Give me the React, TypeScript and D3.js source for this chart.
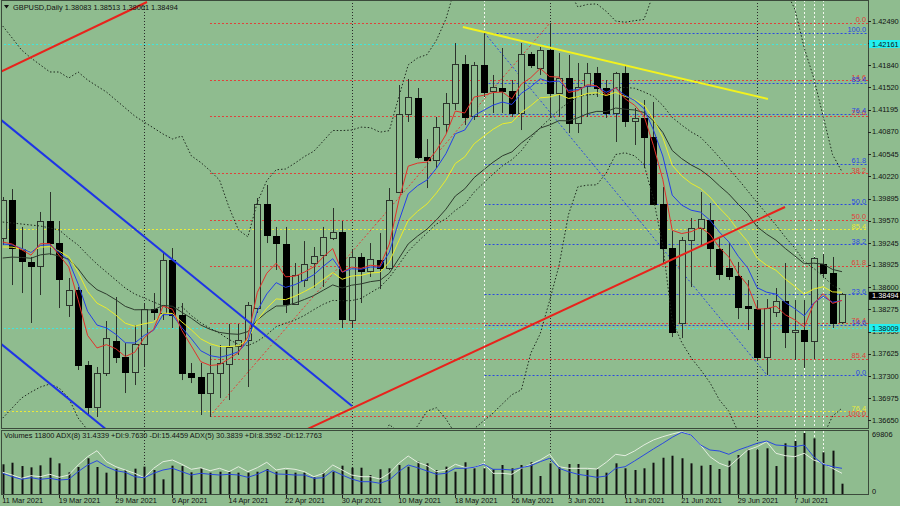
import React from 'react';
import * as d3 from 'd3';

const W = 900;
const H = 506;
const BG = '#8fbc8f';
const FONT = '"Liberation Sans", Arial, sans-serif';

// ---------------- DATA ----------------
const open = [1.39317,1.39873,1.39156,1.38967,1.38908,1.39566,1.39244,1.38338,1.38557,1.37461,
1.36847,1.37344,1.37811,1.37578,1.37359,1.37768,1.38279,1.38221,1.38996,1.38192,
1.37344,1.37286,1.37051,1.37344,1.37476,1.37738,1.37826,1.38294,1.39815,1.39346,
1.39230,1.38353,1.38703,1.38952,1.39069,1.39317,1.39405,1.38119,1.39040,1.38835,
1.38996,1.38879,1.39990,1.41131,1.41364,1.40502,1.40458,1.40985,1.41291,1.41862,
1.41101,1.41847,1.41466,1.41510,1.41466,1.41145,1.42008,1.41803,1.42066,1.41437,
1.41657,1.40999,1.41539,1.41730,1.41510,1.41145,1.41730,1.41028,1.41072,1.40794,
1.39815,1.39171,1.38075,1.39288,1.39464,1.39581,1.39156,1.38879,1.38762,1.38323,
1.38279,1.37578,1.38236,1.38396,1.37943,1.37972,1.37811,1.38938,1.38806,1.38083];
const high = [1.39917,1.40033,1.39479,1.39040,1.39698,1.39990,1.39566,1.38733,1.38601,1.37519,
1.37432,1.38104,1.38455,1.37782,1.38046,1.38353,1.38513,1.39113,1.39171,1.38367,
1.37490,1.37490,1.37738,1.37753,1.38061,1.38061,1.38382,1.39902,1.40092,1.39479,
1.39479,1.38952,1.39273,1.39186,1.39479,1.39756,1.39566,1.39142,1.39098,1.39244,
1.39390,1.40048,1.41554,1.41642,1.41510,1.40764,1.41087,1.41437,1.42168,1.41993,
1.41891,1.42314,1.41701,1.42095,1.41627,1.42168,1.42037,1.42110,1.42461,1.42022,
1.41993,1.41876,1.41876,1.41818,1.41627,1.41745,1.41847,1.41218,1.41335,1.41306,
1.40063,1.39419,1.39332,1.39610,1.39990,1.39829,1.39332,1.39244,1.38967,1.38703,
1.38411,1.38425,1.38586,1.38952,1.38411,1.38411,1.39040,1.39084,1.39040,1.38513];
const low = [1.39215,1.38630,1.38513,1.38075,1.38484,1.39069,1.38294,1.38163,1.37388,1.36730,
1.36701,1.37300,1.37490,1.37051,1.37168,1.37446,1.38119,1.38119,1.38002,1.37241,
1.37197,1.36730,1.36701,1.36978,1.36949,1.37607,1.37139,1.38221,1.39244,1.38850,
1.38221,1.38338,1.38601,1.38586,1.38601,1.39288,1.38002,1.38002,1.38367,1.38748,
1.38571,1.38850,1.39975,1.41014,1.40473,1.40048,1.40341,1.40852,1.41189,1.40970,
1.41043,1.41379,1.41145,1.41145,1.41087,1.40896,1.41803,1.41701,1.41087,1.41087,
1.40852,1.40852,1.41087,1.41379,1.41072,1.40721,1.40941,1.40677,1.40341,1.39800,
1.38952,1.37870,1.37855,1.38601,1.39215,1.38894,1.38703,1.38703,1.38133,1.37972,
1.37534,1.37315,1.38163,1.37709,1.37534,1.37417,1.37548,1.38733,1.38002,1.38061];
const close = [1.39873,1.39171,1.38981,1.38908,1.39566,1.39244,1.38718,1.38557,1.37461,1.36847,
1.37344,1.37855,1.37578,1.37359,1.37768,1.38279,1.38236,1.38996,1.38192,1.37344,
1.37286,1.37051,1.37344,1.37490,1.37724,1.37826,1.38338,1.39815,1.39361,1.39244,
1.38353,1.38777,1.38938,1.39054,1.39332,1.39405,1.38133,1.39040,1.38835,1.39010,
1.38879,1.39873,1.41131,1.41379,1.40502,1.40458,1.40941,1.41291,1.41862,1.41087,
1.41847,1.41452,1.41525,1.41466,1.41145,1.42008,1.41847,1.42066,1.41437,1.41657,
1.40999,1.41525,1.41730,1.41510,1.41145,1.41730,1.41028,1.41072,1.40794,1.39815,
1.39171,1.37943,1.39288,1.39464,1.39595,1.39171,1.38792,1.38762,1.38309,1.38294,
1.37578,1.38294,1.38396,1.37943,1.37972,1.37811,1.39025,1.38806,1.38075,1.38494];
const volume = [34000,35800,32000,30500,32800,41500,35100,24800,30900,40900,
30900,24400,29000,27500,29000,31300,27500,16800,32400,32000,
24800,29400,24400,25500,25500,24400,24400,25500,28600,25500,
27500,24400,24400,19100,24400,25500,32400,30100,30100,21700,
28300,29400,33200,31300,37000,35100,27500,31300,25500,36300,
29400,29400,28300,33200,29400,33200,36300,20600,35100,31300,
34300,34300,27500,28300,24400,35100,29400,27500,29400,35800,
41500,43800,40900,35100,32400,33200,28600,38100,44600,51200,
50400,52300,32000,58000,60700,69806,63700,47700,49600,11800];
const adxWhite = [21.7,19,15.7,18.3,17.3,19.7,16.7,19,29,37.3,
43.3,32.3,27.3,24,20.7,16.3,25.7,32.3,34,29.7,
24.7,26.3,23.3,25.7,22.3,27.3,22.3,26.3,31.7,24,
25.7,24.7,22.3,17.3,20.7,29,24,19,17.3,17.3,
15,20.7,30.7,38,31.7,28.3,22.3,24,29.7,26.7,
26.3,30.7,20.7,20.7,19.7,25.7,29.7,34,39.7,27.3,
25.7,25.7,25.7,25,31.7,39.7,38.3,43,49,54,
57.3,60,62.3,59,49,37.3,30.7,27.3,35.7,44,
47.3,52.3,40.7,38.3,37.3,40.7,34,30.7,25.7,20.7];
const adxBlue = [20.7,17.3,14.7,16.3,14.7,15.7,14,14.7,22.3,29,
33.3,27.3,23.3,21.7,17.3,16.3,20.7,24,25.7,22.3,
19,20.7,19.7,19,19.7,19,16.7,19.7,24,20,
19.7,19,19,15.7,16.3,23.3,19,15,12.3,12.3,
10.7,14,22.3,29,26.3,23,19.7,20.7,25.7,25.7,
26.7,29.7,24.7,24.7,24,26.3,28.3,32.3,35.7,25.7,
22.3,19.7,18.3,16.7,18,25.7,27.3,33,39,45,
50.7,56.7,61.7,59,49,44,43,39.7,44,47.3,
50.7,53,49,48.3,47.3,49,37.3,29.7,27.3,25.7];

// Bollinger values for the first 19 bars (window needs earlier history)
const bbEarlyMid = [1.39551,1.39537,1.39522,1.39507,1.39493,1.39464,1.39434,1.39317,1.39215,1.39069,
1.38937,1.38820,1.38703,1.38586,1.38499,1.38440,1.38382,1.38323,1.38265];
const bbEarlyHalf = [0.02866,0.02705,0.02544,0.02442,0.02354,0.02281,0.0231,0.02339,0.02529,0.02559,
0.02602,0.02632,0.02632,0.02632,0.02602,0.02573,0.02544,0.02515,0.025];
// EMA values at the first bar
const emaSeeds = { e5: 1.39259, e8: 1.3923, e13: 1.39186, e21: 1.39025 };

const dateLabels = ['11 Mar 2021','19 Mar 2021','29 Mar 2021','6 Apr 2021','14 Apr 2021','22 Apr 2021','30 Apr 2021','10 May 2021','18 May 2021','26 May 2021','3 Jun 2021','11 Jun 2021','21 Jun 2021','29 Jun 2021','7 Jul 2021'];
const dateLabelStep = 6;
const priceTicks = ['1.42490','1.42165','1.41840','1.41520','1.41195','1.40870','1.40545','1.40220','1.39895','1.39570','1.39245','1.38925','1.38600','1.38275','1.37950','1.37625','1.37300','1.36975','1.36650'];
const monthStarts = [15, 37, 58, 80];
const whiteMarks = [51, 84, 85, 86, 87];
const cyanPrices = [1.42161, 1.38009];

const fibLevels = [0, 14.6, 23.6, 38.2, 50, 61.8, 76.4, 85.4, 100];
const fibLabels = ['0.0', '14.6', '23.6', '38.2', '50.0', '61.8', '76.4', '85.4', '100.0'];
const redFib = { i1: 21.98, p100: 1.36715, i2: 58.04, p0: 1.42461 };
const blueFib = { i1: 51.1, p100: 1.42315, i2: 81.05, p0: 1.37314 };
const yellowFibLabels = ['85.4', '76.4'];
const yellowFibPrices = [1.39449, 1.36788];

const trendLines = [
  { color: '#e8231c', a: [-0.29, 1.41744], b: [15.3, 1.42768] },
  { color: '#1e34e6', a: [-0.29, 1.41057], b: [37.04, 1.36861] },
  { color: '#1e34e6', a: [-0.29, 1.37782], b: [12.44, 1.36355] },
  { color: '#e8231c', a: [31.53, 1.36474], b: [82.96, 1.39771] },
  { color: '#f2f21e', a: [48.8, 1.42402], b: [81.15, 1.4135] },
];

const headerText = 'GBPUSD,Daily  1.38083 1.38513 1.38061 1.38494';
const volHeader = 'Volumes 11800  ADX(8) 31.4339 +DI:9.7630 -DI:15.4459  ADX(5) 30.3839 +DI:8.3592 -DI:12.7763';
const volMaxLabel = '69806';
const lastPrice = 1.38494;

// ---------------- LAYOUT ----------------
const RIGHT = 868;
const MAIN_TOP = 1;
const MAIN_BOTTOM = 428;
const VOL_TOP = 431;
const VOL_BOTTOM = 495;

function ema(src: number[], n: number, seed: number) {
  const k = 2 / (n + 1);
  const out: number[] = [];
  let prev = seed;
  src.forEach((v, i) => {
    prev = i === 0 ? seed : prev + k * (v - prev);
    out.push(prev);
  });
  return out;
}

function bollinger(src: number[], n: number, dev: number) {
  const mid: number[] = [], up: number[] = [], lo: number[] = [];
  src.forEach((_, i) => {
    if (i < n - 1) {
      mid.push(bbEarlyMid[i]);
      up.push(bbEarlyMid[i] + bbEarlyHalf[i]);
      lo.push(bbEarlyMid[i] - bbEarlyHalf[i]);
    } else {
      const w = src.slice(i - n + 1, i + 1);
      const m = d3.mean(w) as number;
      const sd = Math.sqrt(d3.mean(w.map((v) => (v - m) * (v - m))) as number);
      mid.push(m);
      up.push(m + dev * sd);
      lo.push(m - dev * sd);
    }
  });
  return { mid, up, lo };
}

export default function App() {
  const n = close.length;
  const x = d3.scaleLinear().domain([0, n - 1]).range([2.7, 841.97]);
  const y = d3.scaleLinear().domain([1.42797, 1.3654]).range([0, MAIN_BOTTOM]);
  const yVol = d3.scaleLinear().domain([0, 69806]).range([494, 433]);
  const yAdx = d3.scaleLinear().domain([0, 60]).range([494, 434]);

  const e5 = ema(close, 5, emaSeeds.e5);
  const e8 = ema(close, 8, emaSeeds.e8);
  const e13 = ema(close, 13, emaSeeds.e13);
  const e21 = ema(close, 21, emaSeeds.e21);
  const bb = bollinger(close, 20, 3);

  const line = (arr: number[]) =>
    d3.line<number>().x((_, i) => x(i)).y((v) => y(v))(arr) as string;
  const adxLine = (arr: number[]) =>
    d3.line<number>().x((_, i) => x(i)).y((v) => yAdx(v))(arr) as string;

  const px = (i: number) => Math.round(x(i)) + 0.5;

  const fibElems = (fib: typeof redFib, color: string, startX: number) =>
    fibLevels.map((lv, k) => {
      const p = fib.p0 + (fib.p100 - fib.p0) * lv / 100;
      const yy = Math.round(y(p)) + 0.5;
      return <line key={color + k} x1={startX} x2={RIGHT} y1={yy} y2={yy} stroke={color} strokeWidth={1} strokeDasharray="2,2" />;
    });
  const fibText = (fib: typeof redFib, color: string) =>
    fibLevels.map((lv, k) => {
      const p = fib.p0 + (fib.p100 - fib.p0) * lv / 100;
      return (
        <text key={'t' + color + k} x={866} y={y(p) - 0.5} textAnchor="end" fontSize={7.4} fill={color} fontFamily={FONT}>
          {fibLabels[k]}
        </text>
      );
    });

  return (
    <svg width={W} height={H} style={{ position: 'absolute', left: 0, top: 0, background: BG }}>
      <defs>
        <clipPath id="mainClip">
          <rect x={1} y={MAIN_TOP} width={RIGHT - 1} height={MAIN_BOTTOM - MAIN_TOP} />
        </clipPath>
        <clipPath id="volClip">
          <rect x={1} y={VOL_TOP} width={RIGHT - 1} height={VOL_BOTTOM - VOL_TOP} />
        </clipPath>
      </defs>
      <rect x={0} y={0} width={W} height={H} fill={BG} />

      <g clipPath="url(#mainClip)">
        {cyanPrices.map((p, k) => (
          <line key={'c' + k} x1={0} x2={RIGHT} y1={Math.round(y(p)) + 0.5} y2={Math.round(y(p)) + 0.5} stroke="#3fe6dc" strokeDasharray="2,2" />
        ))}
        {yellowFibPrices.map((p, k) => (
          <line key={'yf' + k} x1={0} x2={RIGHT} y1={Math.round(y(p)) + 0.5} y2={Math.round(y(p)) + 0.5} stroke="#eaea3a" strokeDasharray="2,2" />
        ))}
        {fibElems(redFib, '#e0413a', x(redFib.i1))}
        {fibElems(blueFib, '#2b49e0', x(blueFib.i1))}
        {monthStarts.map((i) => (
          <line key={'ms' + i} x1={px(i)} x2={px(i)} y1={0} y2={MAIN_BOTTOM} stroke="#2a2a2a" strokeDasharray="1,2" />
        ))}
        {whiteMarks.map((i) => (
          <line key={'wm' + i} x1={px(i)} x2={px(i)} y1={0} y2={MAIN_BOTTOM} stroke="#f2f7ee" strokeDasharray="2,2" />
        ))}
        <line x1={x(redFib.i1)} y1={y(redFib.p100)} x2={x(redFib.i2)} y2={y(redFib.p0)} stroke="#e0413a" strokeDasharray="2,2" />
        <line x1={x(blueFib.i1)} y1={y(blueFib.p100)} x2={x(blueFib.i2)} y2={y(blueFib.p0)} stroke="#2b49e0" strokeDasharray="2,2" />

        {close.map((c, i) => {
          const o = open[i];
          const bull = c >= o;
          const cx = px(i);
          const top = Math.round(y(Math.max(o, c)));
          const bot = Math.round(y(Math.min(o, c)));
          return (
            <g key={'k' + i}>
              <line x1={cx} x2={cx} y1={y(high[i])} y2={y(low[i])} stroke="#2c332c" strokeWidth={1} />
              <rect x={cx - 3} y={top + 0.5} width={6} height={Math.max(1, bot - top)} fill={bull ? BG : '#000'} stroke={bull ? '#2c332c' : '#000'} strokeWidth={1} />
            </g>
          );
        })}

        <path d={line(bb.up)} fill="none" stroke="#1f2a1f" strokeDasharray="1.5,2" />
        <path d={line(bb.mid)} fill="none" stroke="#1f2a1f" strokeDasharray="1.5,2" />
        <path d={line(bb.lo)} fill="none" stroke="#1f2a1f" strokeDasharray="1.5,2" />
        <path d={line(e21)} fill="none" stroke="#2d3a2d" strokeWidth={1} />
        <path d={line(e13)} fill="none" stroke="#ecec2a" strokeWidth={1} />
        <path d={line(e8)} fill="none" stroke="#2440e8" strokeWidth={1} />
        <path d={line(e5)} fill="none" stroke="#e3302a" strokeWidth={1} />

        {trendLines.map((t, k) => (
          <line key={'tl' + k} x1={x(t.a[0])} y1={y(t.a[1])} x2={x(t.b[0])} y2={y(t.b[1])} stroke={t.color} strokeWidth={2} />
        ))}
      </g>

      {yellowFibPrices.map((p, k) => (
        <text key={'yft' + k} x={866} y={y(p) - 0.5} textAnchor="end" fontSize={7.4} fill="#eaea3a" fontFamily={FONT}>
          {yellowFibLabels[k]}
        </text>
      ))}
      {fibText(redFib, '#e0413a')}
      {fibText(blueFib, '#2b49e0')}

      <path d="M4,5 L9,5 L6.5,8.5 Z" fill="#111" />
      <text x={13} y={9.5} fontSize={7.4} fill="#111" fontFamily={FONT}>{headerText}</text>

      <rect x={1.5} y={0.5} width={RIGHT - 1} height={MAIN_BOTTOM} fill="none" stroke="#3b4a3b" />

      {priceTicks.map((t) => {
        const yy = y(parseFloat(t));
        return (
          <g key={'pt' + t}>
            <line x1={RIGHT} x2={RIGHT + 3} y1={Math.round(yy) + 0.5} y2={Math.round(yy) + 0.5} stroke="#222" />
            <text x={872} y={yy + 2.6} fontSize={7.4} fill="#111" fontFamily={FONT}>{t}</text>
          </g>
        );
      })}
      {cyanPrices.map((p, k) => (
        <g key={'cb' + k}>
          <rect x={869} y={y(p) - 3.5} width={31} height={8} fill="#22f0f0" />
          <text x={872} y={y(p) + 3} fontSize={7.4} fill="#111" fontFamily={FONT}>{p.toFixed(5)}</text>
        </g>
      ))}
      <rect x={869} y={y(lastPrice) - 2.5} width={31} height={8} fill="#000" />
      <text x={872} y={y(lastPrice) + 4} fontSize={7.4} fill="#fff" fontFamily={FONT}>{lastPrice.toFixed(5)}</text>

      <g clipPath="url(#volClip)">
        {monthStarts.map((i) => (
          <line key={'vms' + i} x1={px(i)} x2={px(i)} y1={VOL_TOP} y2={VOL_BOTTOM} stroke="#2a2a2a" strokeDasharray="1,2" />
        ))}
        {whiteMarks.map((i) => (
          <line key={'vwm' + i} x1={px(i)} x2={px(i)} y1={VOL_TOP} y2={VOL_BOTTOM} stroke="#f2f7ee" strokeDasharray="2,2" />
        ))}
        {volume.map((v, i) => (
          <line key={'v' + i} x1={px(i)} x2={px(i)} y1={yVol(0)} y2={yVol(v)} stroke="#111" strokeWidth={2} />
        ))}
        <path d={adxLine(adxWhite)} fill="none" stroke="#e4eee0" strokeWidth={1} />
        <path d={adxLine(adxBlue)} fill="none" stroke="#2a48e0" strokeWidth={1} />
      </g>
      <rect x={1.5} y={VOL_TOP - 0.5} width={RIGHT - 1} height={VOL_BOTTOM - VOL_TOP} fill="none" stroke="#3b4a3b" />
      <text x={4} y={437.5} fontSize={7.4} fill="#111" fontFamily={FONT}>{volHeader}</text>
      <text x={872} y={436.5} fontSize={7.4} fill="#111" fontFamily={FONT}>{volMaxLabel}</text>
      <text x={872} y={494} fontSize={7.4} fill="#111" fontFamily={FONT}>0</text>

      {dateLabels.map((d, k) => {
        const i = k * dateLabelStep;
        return (
          <g key={'d' + k}>
            <line x1={px(i)} x2={px(i)} y1={VOL_BOTTOM} y2={VOL_BOTTOM + 3} stroke="#222" />
            <text x={x(i) - 0.5} y={502.5} fontSize={7.4} fill="#111" fontFamily={FONT}>{d}</text>
          </g>
        );
      })}
    </svg>
  );
}
